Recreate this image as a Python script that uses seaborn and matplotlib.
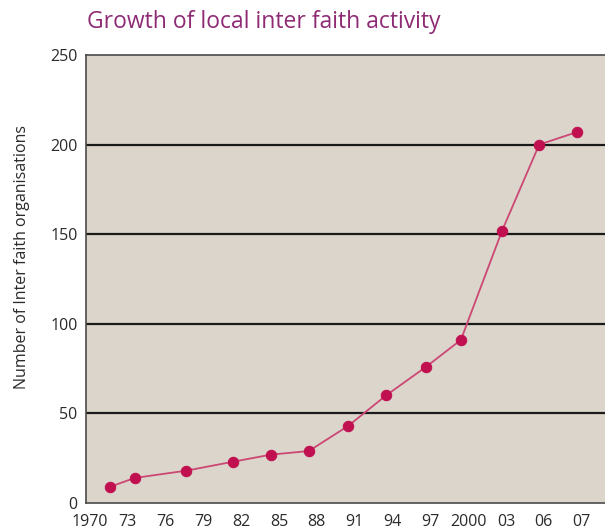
import matplotlib
matplotlib.use("Agg")
import matplotlib.pyplot as plt
import seaborn as sns
import pandas as pd

# Tick labels along the x axis (placed at evenly spaced slots 0..13)
tick_labels = ["1970", "73", "76", "79", "82", "85", "88", "91", "94", "97",
               "2000", "03", "06", "07"]
# Horizontal position of each data point, in tick-slot units
point_pos = [0.53, 1.19, 2.54, 3.78, 4.79, 5.79, 6.83, 7.83, 8.89, 9.81,
             10.90, 11.88, 12.88]
# Number of inter faith organisations
counts = [9, 14, 18, 23, 27, 29, 43, 60, 76, 91, 152, 200, 207]
y_ticks = [0, 50, 100, 150, 200, 250]

df = pd.DataFrame({"pos": point_pos, "count": counts})

sns.set_theme(style="white")
plt.rcParams["font.family"] = ["Open Sans", "DejaVu Sans"]

fig = plt.figure(figsize=(6.05, 5.29), dpi=100)
ax = fig.add_axes([86 / 605, 26 / 529, 1 - 86 / 605, (503 - 55) / 529])
ax.set_facecolor("#DCD5CB")

for v in y_ticks[1:-1]:
    ax.axhline(v, color="#1a1a1a", lw=1.6, zorder=1)

sns.lineplot(data=df, x="pos", y="count", ax=ax, color="#CC4774", lw=1.3,
             marker="o", markersize=7.5, markerfacecolor="#C0104F",
             markeredgecolor="#C0104F", zorder=3)

ax.set_xlim(-0.1, 13.62)
ax.set_ylim(0, 250)
ax.set_xticks(range(len(tick_labels)))
ax.set_xticklabels(tick_labels)
ax.set_yticks(y_ticks)
ax.set_yticklabels([str(v) for v in y_ticks])
ax.tick_params(axis="both", length=0, labelcolor="#2a2a2a")
ax.tick_params(axis="x", pad=8, labelsize=11.5)
ax.tick_params(axis="y", pad=6, labelsize=11.5)
ax.set_xlabel("")
ax.set_ylabel("")

for side in ["left", "bottom", "top"]:
    ax.spines[side].set_visible(True)
    ax.spines[side].set_color("#4a4a4a")
    ax.spines[side].set_linewidth(1.2)
ax.spines["right"].set_visible(False)

fig.text(87 / 605, 1 - 22 / 529, "Growth of local inter faith activity",
         color="#8E2B74", fontsize=16.5, va="center", ha="left")
fig.text(22 / 605, 1 - 257 / 529, "Number of Inter faith organisations",
         color="#2a2a2a", fontsize=11.5, rotation=90, va="center", ha="center")

fig.savefig("out.png", dpi=100)
